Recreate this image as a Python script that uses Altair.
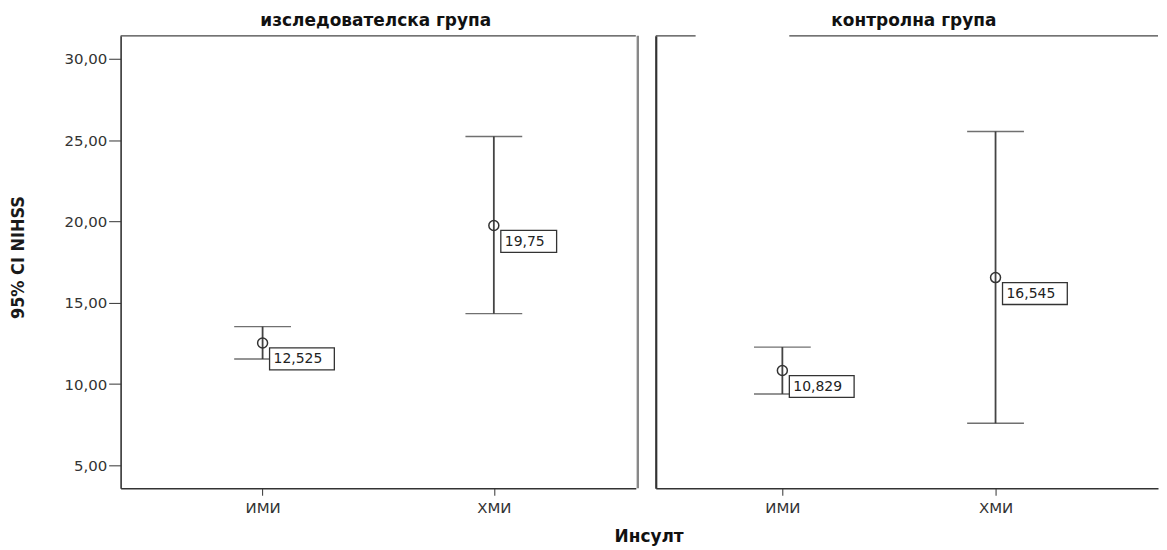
import altair as alt
import pandas as pd

# ---- data ----
GROUPS = ["изследователска група", "изследователска група", "контролна група", "контролна група"]
STROKE = ["ИМИ", "ХМИ", "ИМИ", "ХМИ"]
MEAN = [12.525, 19.75, 10.829, 16.545]
LOWER = [11.54, 14.33, 9.39, 7.59]
UPPER = [13.53, 25.22, 12.27, 25.53]
PANEL_TITLES = ["изследователска група", "контролна група"]
CATS = ["ИМИ", "ХМИ"]
Y_TICKS = [5, 10, 15, 20, 25, 30]
Y_TITLE = "95% CI NIHSS"
X_TITLE = "Инсулт"

df = pd.DataFrame({"group": GROUPS, "stroke": STROKE, "mean": MEAN,
                   "lower": LOWER, "upper": UPPER})

H = 454
YDOM = [3.59, 31.41]
INK = "#333333"
FONT = "DejaVu Sans"

BOX6 = "M7,5 H72 V27 H7 Z"
BOX5 = "M7,5 H63 V27 H7 Z"


def panel(gi, width, xpad, xalign, show_y, title_x, right_border, top_gap):
    gname = PANEL_TITLES[gi]
    base = alt.Chart(df).transform_filter(alt.datum.group == gname)
    xenc = alt.X("stroke:N", sort=CATS,
                 scale=alt.Scale(type="point", domain=CATS, padding=xpad, align=xalign),
                 axis=alt.Axis(title=None, labelAngle=0, labelFont=FONT, labelFontSize=15,
                               labelColor="#333", domainColor=INK, domainWidth=1.3,
                               tickColor=INK, tickSize=7, labelPadding=5, grid=False))
    if show_y:
        yaxis = alt.Axis(title=Y_TITLE, values=Y_TICKS,
                         labelExpr="replace(format(datum.value, '.2f'), '.', ',')",
                         labelFont=FONT, labelFontSize=15, labelColor="#333",
                         tickSize=12, tickColor=INK, labelPadding=2,
                         domainColor=INK, domainWidth=1.6, grid=False,
                         titleFont="Liberation Sans Narrow, DejaVu Sans Condensed, Liberation Sans",
                         titleFontSize=18,
                         titleFontWeight="bold", titleColor="#1a1a1a",
                         titleX=-102, titleY=222, titleBaseline="middle", titleAngle=270)
    else:
        yaxis = alt.Axis(title=None, labels=False, ticks=False, grid=False,
                         domainColor=INK, domainWidth=2.2, values=Y_TICKS)
    yscale = alt.Scale(domain=YDOM, nice=False, zero=False)

    rule = base.mark_rule(color="#444", strokeWidth=1.8).encode(
        x=xenc, y=alt.Y("lower:Q", scale=yscale, axis=yaxis), y2="upper:Q")
    cap_lo = base.mark_tick(color=INK, thickness=1.4, size=57).encode(
        x=alt.X("stroke:N", sort=CATS), y=alt.Y("lower:Q"))
    cap_hi = base.mark_tick(color=INK, thickness=1.4, size=57).encode(
        x=alt.X("stroke:N", sort=CATS), y=alt.Y("upper:Q"))
    pt = base.mark_point(shape="circle", size=100, filled=False, color=INK,
                         strokeWidth=1.5, opacity=1).encode(
        x=alt.X("stroke:N", sort=CATS), y=alt.Y("mean:Q"))
    lab = base.transform_calculate(lab="replace(toString(datum.mean), '.', ',')")
    box = lab.mark_point(filled=True, fill="white", stroke="#333", strokeWidth=1.3,
                         size=4, opacity=1).encode(
        x=alt.X("stroke:N", sort=CATS), y=alt.Y("mean:Q"),
        shape=alt.condition("length(datum.lab) > 5", alt.value(BOX6), alt.value(BOX5)))
    txt = lab.mark_text(align="left", baseline="middle", dx=11, dy=16.5, font=FONT,
                        fontSize=14, color="#222").encode(
        x=alt.X("stroke:N", sort=CATS), y=alt.Y("mean:Q"), text="lab:N")

    tdf = pd.DataFrame({"t": [gname]})
    ttl = alt.Chart(tdf).mark_text(align="center", baseline="alphabetic", font=FONT,
                                   fontSize=17, fontWeight="bold", color="#111").encode(
        x=alt.value(title_x), y=alt.value(-10), text="t:N")

    layers = [rule, cap_lo, cap_hi, pt, box, txt, ttl]
    if top_gap is None:
        layers.append(alt.Chart(tdf).mark_rule(color="#444", strokeWidth=1.3).encode(
            y=alt.value(0)))
    else:
        layers.append(alt.Chart(tdf).mark_rule(color="#444", strokeWidth=1.3).encode(
            x=alt.value(0), x2=alt.value(top_gap[0]), y=alt.value(0)))
        layers.append(alt.Chart(tdf).mark_rule(color="#444", strokeWidth=1.3).encode(
            x=alt.value(top_gap[1]), x2=alt.value(width), y=alt.value(0)))
    if right_border:
        layers.append(alt.Chart(tdf).mark_rule(color="#888", strokeWidth=2.4).encode(
            x=alt.value(width + 2)))
    return alt.layer(*layers).properties(width=width, height=H)


left = panel(0, 517, 0.614, 0.5, True, 256, True, None)
right = panel(1, 504, 0.678, 0.438, False, 259, False, (40, 134))

chart = alt.hconcat(left, right, spacing=15).properties(
    title=alt.TitleParams(X_TITLE, orient="bottom", anchor="middle", font=FONT,
                          fontSize=17, fontWeight="bold", color="#111", offset=14, dx=65),
    padding={"left": 2, "top": 3, "right": 0, "bottom": 0},
    background="white",
).configure_view(strokeWidth=0, stroke="transparent")

chart.save("out.html", embed_options={"renderer": "svg", "actions": False})
